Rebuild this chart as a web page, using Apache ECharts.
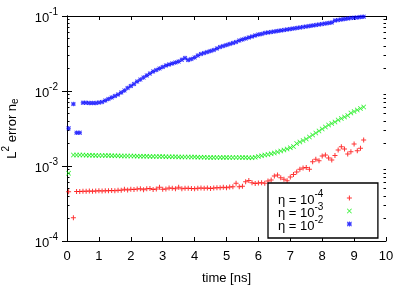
<!DOCTYPE html>
<html><head><meta charset="utf-8">
<script src="https://cdn.jsdelivr.net/npm/echarts@6/dist/echarts.min.js"></script>
<style>html,body{margin:0;padding:0;background:#fff}#c{width:407px;height:285px}</style>
</head><body><div id="c"></div>
<script>
const times = [0.05,0.2,0.3,0.4,0.5,0.6,0.7,0.8,0.9,1.0,1.1,1.2,1.3,1.4,1.5,1.6,1.7,1.8,1.9,2.0,
2.1,2.2,2.3,2.4,2.5,2.6,2.7,2.8,2.9,3.0,3.1,3.2,3.3,3.4,3.5,3.6,3.7,3.8,3.9,4.0,
4.1,4.2,4.3,4.4,4.5,4.6,4.7,4.8,4.9,5.0,5.1,5.2,5.3,5.4,5.5,5.6,5.7,5.8,5.9,6.0,
6.1,6.2,6.3,6.4,6.5,6.6,6.7,6.8,6.9,7.0,7.1,7.2,7.3,7.4,7.5,7.6,7.7,7.8,7.9,8.0,
8.1,8.2,8.3,8.4,8.5,8.6,8.7,8.8,8.9,9.0,9.1,9.2,9.3];
const errEta4 = [4.543e-4,2.045e-4,4.571e-4,4.571e-4,4.599e-4,4.599e-4,4.642e-4,4.613e-4,4.642e-4,4.670e-4,
4.642e-4,4.670e-4,4.685e-4,4.713e-4,4.685e-4,4.742e-4,4.757e-4,4.890e-4,4.786e-4,4.890e-4,
4.860e-4,4.935e-4,4.981e-4,4.830e-4,4.966e-4,5.012e-4,4.860e-4,4.935e-4,5.200e-4,4.890e-4,
4.935e-4,5.090e-4,5.043e-4,4.981e-4,5.200e-4,4.981e-4,5.043e-4,5.043e-4,5.012e-4,4.981e-4,
5.043e-4,5.090e-4,5.043e-4,5.090e-4,5.012e-4,5.090e-4,5.137e-4,5.137e-4,5.200e-4,5.137e-4,
5.249e-4,5.281e-4,5.880e-4,5.297e-4,5.362e-4,6.176e-4,6.407e-4,5.989e-4,5.844e-4,5.934e-4,
5.989e-4,5.880e-4,6.310e-4,6.506e-4,7.357e-4,7.586e-4,6.983e-4,6.648e-4,6.368e-4,7.134e-4,
7.704e-4,8.317e-4,9.036e-4,9.404e-4,9.550e-4,9.036e-4,1.141e-3,1.228e-3,1.177e-3,1.359e-3,
1.402e-3,1.278e-3,1.203e-3,1.381e-3,1.634e-3,1.809e-3,1.685e-3,1.446e-3,1.551e-3,1.965e-3,
1.600e-3,1.722e-3,2.222e-3];
const errEta3 = [8.0e-4,1.402e-3,1.402e-3,1.402e-3,1.402e-3,1.393e-3,1.388e-3,1.388e-3,1.384e-3,1.380e-3,
1.380e-3,1.376e-3,1.376e-3,1.372e-3,1.368e-3,1.368e-3,1.363e-3,1.359e-3,1.359e-3,1.359e-3,
1.355e-3,1.351e-3,1.351e-3,1.347e-3,1.347e-3,1.343e-3,1.343e-3,1.339e-3,1.335e-3,1.335e-3,
1.331e-3,1.331e-3,1.327e-3,1.327e-3,1.323e-3,1.323e-3,1.318e-3,1.318e-3,1.314e-3,1.314e-3,
1.310e-3,1.310e-3,1.306e-3,1.298e-3,1.294e-3,1.294e-3,1.298e-3,1.302e-3,1.302e-3,1.302e-3,
1.298e-3,1.298e-3,1.298e-3,1.298e-3,1.294e-3,1.294e-3,1.290e-3,1.290e-3,1.306e-3,1.339e-3,
1.368e-3,1.402e-3,1.424e-3,1.455e-3,1.491e-3,1.537e-3,1.585e-3,1.635e-3,1.686e-3,1.754e-3,
1.820e-3,1.996e-3,2.090e-3,2.188e-3,2.291e-3,2.436e-3,2.591e-3,2.755e-3,2.929e-3,3.115e-3,
3.312e-3,3.522e-3,3.688e-3,3.861e-3,4.106e-3,4.299e-3,4.502e-3,4.714e-3,5.090e-3,5.330e-3,
5.581e-3,5.845e-3,6.120e-3];
const errEta2 = [3.18e-3,6.71e-3,2.78e-3,2.78e-3,6.98e-3,6.96e-3,6.92e-3,6.92e-3,6.92e-3,7.00e-3,
7.13e-3,7.47e-3,7.82e-3,8.19e-3,8.58e-3,8.98e-3,9.55e-3,1.016e-2,1.096e-2,1.166e-2,
1.24e-2,1.338e-2,1.42e-2,1.51e-2,1.61e-2,1.71e-2,1.82e-2,1.905e-2,1.995e-2,2.09e-2,
2.19e-2,2.26e-2,2.33e-2,2.40e-2,2.47e-2,2.62e-2,2.76e-2,2.59e-2,2.67e-2,2.80e-2,
2.97e-2,3.11e-2,3.21e-2,3.31e-2,3.41e-2,3.52e-2,3.69e-2,3.86e-2,3.98e-2,4.10e-2,
4.23e-2,4.37e-2,4.50e-2,4.71e-2,4.86e-2,5.01e-2,5.17e-2,5.33e-2,5.50e-2,5.67e-2,
5.75e-2,5.93e-2,6.03e-2,6.12e-2,6.21e-2,6.31e-2,6.41e-2,6.51e-2,6.61e-2,6.71e-2,
6.81e-2,6.92e-2,7.02e-2,7.13e-2,7.24e-2,7.36e-2,7.47e-2,7.59e-2,7.70e-2,7.82e-2,
7.94e-2,8.07e-2,8.19e-2,8.71e-2,8.84e-2,8.98e-2,9.12e-2,9.26e-2,9.40e-2,9.46e-2,
9.55e-2,9.70e-2,9.79e-2];

const seriesNames = ['η = 10^-4', 'η = 10^-3', 'η = 10^-2'];
const seriesColors = ['#ff0000', '#00ee00', '#0000ff'];
const yMajorTicks = [1e-4, 1e-3, 1e-2, 1e-1];
const yMinorTicks = [2e-4,3e-4,4e-4,5e-4,6e-4,7e-4,8e-4,9e-4,
                     2e-3,3e-3,4e-3,5e-3,6e-3,7e-3,8e-3,9e-3,
                     2e-2,3e-2,4e-2,5e-2,6e-2,7e-2,8e-2,9e-2];
const xMin = 0, xMax = 10, xStep = 1;

const FONT = 'Liberation Sans';
const plusPath = 'path://M0,4H10V6H0Z M4,0H6V10H4Z';
const crossPath = 'path://M0,1.2L1.2,0L10,8.8L8.8,10Z M8.8,0L10,1.2L1.2,10L0,8.8Z';
const starPath = 'path://M0,4H10V6H0Z M4,0H6V10H4Z M0,1.4L1.4,0L10,8.6L8.6,10Z M8.6,0L10,1.4L1.4,10L0,8.6Z';
const symbols = [plusPath, crossPath, starPath];
const symbolSizes = [5, 5, 4.5];
const values = [errEta4, errEta3, errEta2];

const richStyles = {
  b: {fontSize: 13, lineHeight: 18, fontFamily: FONT, color: '#000', verticalAlign: 'bottom'},
  sup: {fontSize: 10, lineHeight: 10, fontFamily: FONT, color: '#000', verticalAlign: 'top'}
};
const nameRich = {
  b: {fontSize: 13, lineHeight: 22, fontFamily: FONT, color: '#000', verticalAlign: 'middle'},
  sup: {fontSize: 10, lineHeight: 10, fontFamily: FONT, color: '#000', verticalAlign: 'top'},
  sub: {fontSize: 10, lineHeight: 10, fontFamily: FONT, color: '#000', verticalAlign: 'bottom', padding: [0,0,3,0]}
};
const toRich = s => {
  const m = s.match(/^(.*)\^(.*)$/);
  return m ? '{b|' + m[1] + '}{sup|' + m[2] + '}' : '{b|' + s + '}';
};

const axisLineStyle = {show: true, lineStyle: {color: '#000', width: 1}};
const yBase = {type: 'log', logBase: 10, min: yMajorTicks[0], max: yMajorTicks[yMajorTicks.length-1],
  splitLine: {show: false}, minorTick: {show: false}, minorSplitLine: {show: false}};

const chart = echarts.init(document.getElementById('c'), null, {renderer: 'canvas'});
chart.setOption({
  animation: false,
  backgroundColor: '#fff',
  grid: {left: 67, right: 21, top: 16, bottom: 44, containLabel: false, outerBoundsMode: 'none'},
  xAxis: [
    {type: 'value', position: 'bottom', min: xMin, max: xMax, interval: xStep,
     axisLine: axisLineStyle, axisTick: {inside: true, length: 4, lineStyle: {color: '#000'}},
     axisLabel: {fontSize: 13, fontFamily: FONT, color: '#000', margin: 8.5, alignMinLabel: 'center', alignMaxLabel: 'center'},
     splitLine: {show: false},
     name: 'time [ns]', nameLocation: 'middle', nameGap: 31,
     nameTextStyle: {fontSize: 13, fontFamily: FONT, color: '#000'}},
    {type: 'value', position: 'top', min: xMin, max: xMax, interval: xStep,
     axisLine: axisLineStyle, axisTick: {inside: true, length: 4, lineStyle: {color: '#000'}},
     axisLabel: {show: false}, splitLine: {show: false}}
  ],
  yAxis: [
    Object.assign({}, yBase, {position: 'left',
      axisLine: axisLineStyle,
      axisTick: {inside: true, length: 5, customValues: yMajorTicks, lineStyle: {color: '#000'}},
      axisLabel: {customValues: yMajorTicks, margin: 9,
        formatter: v => '{b|10}{sup|' + Math.round(Math.log10(v)) + '}', rich: richStyles},
      name: '{b|L}{sup|2}{b| error n}{sub|e}', nameLocation: 'middle', nameGap: 33,
      nameTextStyle: {rich: nameRich}}),
    Object.assign({}, yBase, {position: 'right',
      axisLine: axisLineStyle,
      axisTick: {inside: true, length: 5, customValues: yMajorTicks, lineStyle: {color: '#000'}},
      axisLabel: {show: false}}),
    Object.assign({}, yBase, {position: 'left',
      axisLine: {show: false},
      axisTick: {inside: true, length: 2.5, customValues: yMinorTicks, lineStyle: {color: '#000'}},
      axisLabel: {show: false}}),
    Object.assign({}, yBase, {position: 'right',
      axisLine: {show: false},
      axisTick: {inside: true, length: 2.5, customValues: yMinorTicks, lineStyle: {color: '#000'}},
      axisLabel: {show: false}})
  ],
  legend: {
    orient: 'vertical', left: 268, top: 183, align: 'right',
    itemWidth: 42, itemHeight: 5, itemGap: -5,
    padding: [6, 26, 5, 10],
    borderColor: '#000', borderWidth: 1.3, backgroundColor: '#fff',
    selectedMode: false,
    data: seriesNames.map((n, i) => ({name: n, icon: symbols[i]})),
    formatter: toRich,
    textStyle: {rich: richStyles}
  },
  series: seriesNames.map((n, i) => ({
    type: 'scatter', name: n, xAxisIndex: 0, yAxisIndex: 0,
    symbol: symbols[i], symbolSize: symbolSizes[i],
    itemStyle: {color: seriesColors[i]},
    silent: true,
    data: times.map((t, k) => [t, values[i][k]])
  }))
});
</script></body></html>
